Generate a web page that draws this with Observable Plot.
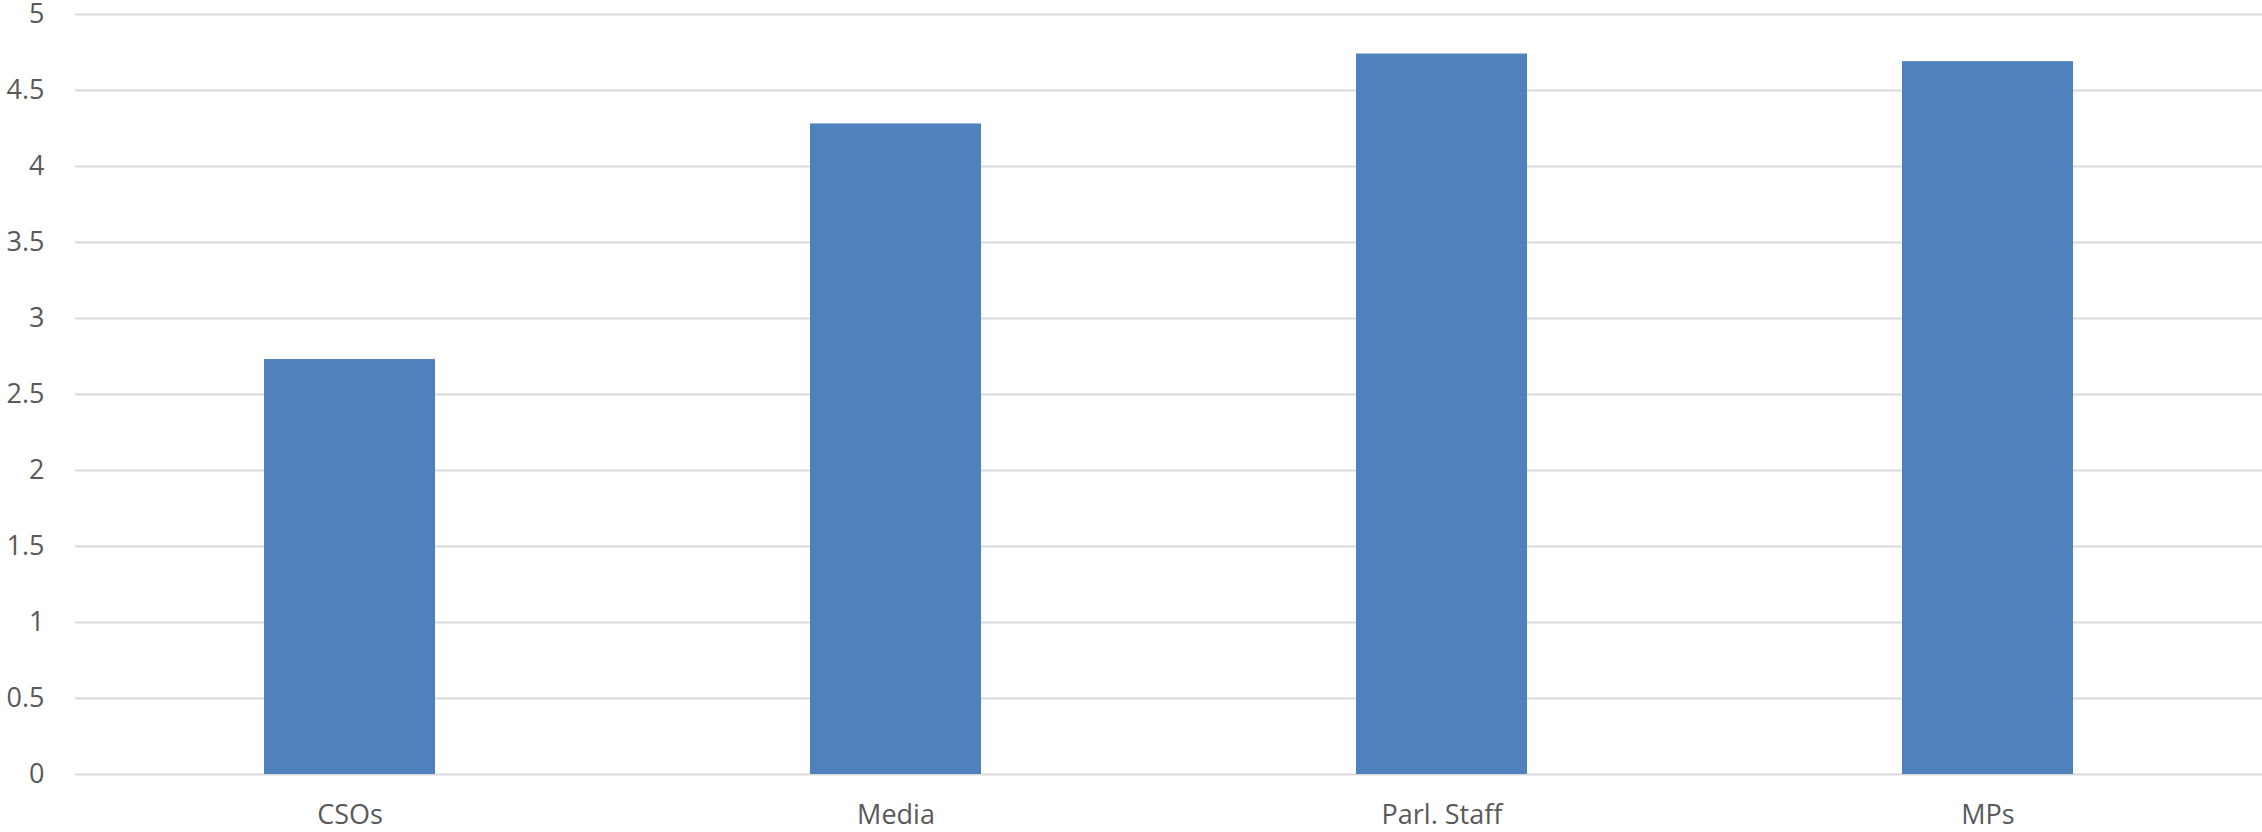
<!DOCTYPE html>
<html>
<head>
<meta charset="utf-8">
<script src="https://cdn.jsdelivr.net/npm/d3@7"></script>
<script src="https://cdn.jsdelivr.net/npm/@observablehq/plot@0.6"></script>
<style>
  html, body { margin: 0; padding: 0; background: #ffffff; }
  #chart svg { display: block; }
</style>
</head>
<body>
<div id="chart"></div>
<script>
const categories = ["CSOs", "Media", "Parl. Staff", "MPs"];
const values = [2.73, 4.28, 4.74, 4.69];
const yTicks = [0, 0.5, 1, 1.5, 2, 2.5, 3, 3.5, 4, 4.5, 5];

const data = categories.map((c, i) => ({category: c, value: values[i]}));

const chart = Plot.plot({
  width: 2262,
  height: 832,
  marginLeft: 75,
  marginRight: 0,
  marginTop: 14,
  marginBottom: 58,
  style: {
    fontFamily: "'Open Sans', sans-serif",
    background: "#ffffff",
    overflow: "visible"
  },
  x: {domain: categories, paddingInner: 0.687, paddingOuter: 0.3435, align: 0.5},
  y: {domain: [0, 5]},
  marks: [
    Plot.ruleY(yTicks, {stroke: "#d9d9d9", strokeWidth: 2}),
    Plot.barY(data, {x: "category", y: "value", fill: "#4f81bd"}),
    Plot.axisY({
      ticks: yTicks,
      tickSize: 0,
      tickPadding: 31,
      tickFormat: d => String(d),
      fontSize: 27,
      fill: "#595959",
      label: null
    }),
    Plot.axisX({
      tickSize: 0,
      tickPadding: 30,
      fontSize: 27,
      fill: "#595959",
      label: null
    })
  ]
});

document.getElementById("chart").appendChild(chart);
</script>
</body>
</html>
